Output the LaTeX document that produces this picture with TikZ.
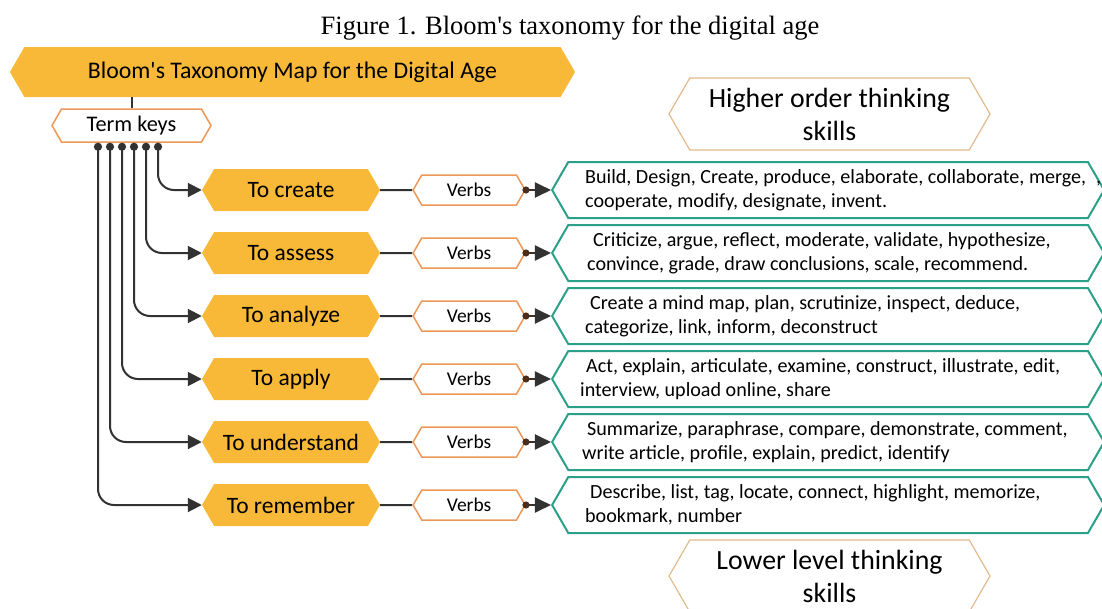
\documentclass[tikz,border=0pt]{standalone}
\usepackage{fontspec}
\setmainfont{Carlito}
\newfontfamily\capfont{Liberation Serif}
\usepackage{tikz}
\usetikzlibrary{positioning,arrows.meta,shapes.symbols}
\definecolor{bloomgold}{RGB}{249,185,56}
\definecolor{keyorange}{RGB}{236,152,88}
\definecolor{skillbeige}{RGB}{226,186,140}
\definecolor{verbteal}{RGB}{42,160,136}
\definecolor{linkgray}{RGB}{50,50,50}
\definecolor{dotbrown}{RGB}{75,45,25}
\tikzset{hexa/.style={signal, signal to=east and west, signal pointer angle=120, inner sep=0pt}}
\tikzset{banner/.style={hexa, fill=bloomgold, minimum width=565pt, minimum height=50pt, font=\fontsize{23.8}{28}\selectfont}}
\tikzset{keybox/.style={hexa, draw=keyorange, line width=1.5pt, fill=white, minimum width=159pt, minimum height=33pt, font=\fontsize{22.3}{26}\selectfont}}
\tikzset{level/.style={hexa, fill=bloomgold, minimum width=178pt, minimum height=42pt, font=\fontsize{23.5}{27}\selectfont}}
\tikzset{verbbox/.style={hexa, draw=keyorange, line width=1.5pt, fill=white, minimum width=112pt, minimum height=30pt, font=\fontsize{19.5}{22}\selectfont}}
\tikzset{examples/.style={hexa, draw=verbteal, line width=2pt, minimum width=552pt, minimum height=56pt}}
\tikzset{extext/.style={anchor=west, align=left, inner sep=0pt, font=\fontsize{20.1}{24.5}\selectfont}}
\tikzset{skillbox/.style={hexa, draw=skillbeige, line width=1.2pt, minimum width=321pt, minimum height=72pt, align=center, font=\fontsize{27.8}{33}\selectfont}}
\tikzset{link/.style={draw=linkgray, line width=2pt}}
\tikzset{branch/.style={link, rounded corners=16pt, {Circle[length=8pt]}-{Triangle[length=14pt,width=14pt]}}}
\tikzset{pointer/.style={link, {Circle[length=7pt,color=dotbrown]}-{Triangle[length=16pt,width=15pt]}}}

\begin{document}
\begin{tikzpicture}[x=1pt, y=-1pt]
            \useasboundingbox (0,0) rectangle (1102,608);

            \node[font=\capfont\fontsize{26.5}{30}\selectfont] (caption) at (570,28) {Figure 1. Bloom\textquotesingle s taxonomy for the digital age};
            \node[banner] (title) at (292.5,72) {Bloom\textquotesingle s Taxonomy Map for the Digital Age};
            \node[keybox] (termkeys) at (131.5,125.5) {Term keys};

            \node[skillbox] (higher) at (829.5,114) {Higher order thinking\\skills};
            \node[skillbox] (lower) at (829.5,576) {Lower level thinking\\skills};

            % levels, top to bottom
            \node[level] (create) at (291,190) {To create};
            \node[level, below=20.6pt of create] (assess) {To assess};
            \node[level, below=20.6pt of assess] (analyze) {To analyze};
            \node[level, below=20.6pt of analyze] (apply) {To apply};
            \node[level, below=20.6pt of apply] (understand) {To understand};
            \node[level, below=20.6pt of understand] (remember) {To remember};

            \node[verbbox, right=32pt of create] (v1) {Verbs};
            \node[verbbox, right=32pt of assess] (v2) {Verbs};
            \node[verbbox, right=32pt of analyze] (v3) {Verbs};
            \node[verbbox, right=32pt of apply] (v4) {Verbs};
            \node[verbbox, right=32pt of understand] (v5) {Verbs};
            \node[verbbox, right=32pt of remember] (v6) {Verbs};

            \node[examples, right=25pt of v1] (e1) {};
            \node[examples, right=25pt of v2] (e2) {};
            \node[examples, right=25pt of v3] (e3) {};
            \node[examples, right=25pt of v4] (e4) {};
            \node[examples, right=25pt of v5] (e5) {};
            \node[examples, right=25pt of v6] (e6) {};

            \node[extext] (t1) at ([xshift=34pt]e1.west) {Build, Design, Create, produce, elaborate, collaborate, merge,\hspace{10pt},\\cooperate, modify, designate, invent.};
            \node[extext] (t2) at ([xshift=36pt]e2.west) {\hspace*{6pt}Criticize, argue, reflect, moderate, validate, hypothesize,\\convince, grade, draw conclusions, scale, recommend.};
            \node[extext] (t3) at ([xshift=34pt]e3.west) {\hspace*{5pt}Create a mind map, plan, scrutinize, inspect, deduce,\\categorize, link, inform, deconstruct};
            \node[extext] (t4) at ([xshift=29pt]e4.west) {\hspace*{6pt}Act, explain, articulate, examine, construct, illustrate, edit,\\interview, upload online, share};
            \node[extext] (t5) at ([xshift=31pt]e5.west) {\hspace*{5pt}Summarize, paraphrase, compare, demonstrate, comment,\\write article, profile, explain, predict, identify};
            \node[extext] (t6) at ([xshift=34pt]e6.west) {\hspace*{5pt}Describe, list, tag, locate, connect, highlight, memorize,\\bookmark, number};

            % term keys fan out to the levels
            \coordinate (k1) at ([xshift=26.5pt]termkeys.south);
            \coordinate (k2) at ([xshift=14.5pt]termkeys.south);
            \coordinate (k3) at ([xshift=2.5pt]termkeys.south);
            \coordinate (k4) at ([xshift=-9.5pt]termkeys.south);
            \coordinate (k5) at ([xshift=-21.5pt]termkeys.south);
            \coordinate (k6) at ([xshift=-33.5pt]termkeys.south);

            \draw[link] (termkeys.north) -- (termkeys.north |- title.south);
            \draw[branch] (k1) |- (create.west);
            \draw[branch] (k2) |- (assess.west);
            \draw[branch] (k3) |- (analyze.west);
            \draw[branch] (k4) |- (apply.west);
            \draw[branch] (k5) |- (understand.west);
            \draw[branch] (k6) |- (remember.west);

            \draw[link] (create) -- (v1);
            \draw[link] (assess) -- (v2);
            \draw[link] (analyze) -- (v3);
            \draw[link] (apply) -- (v4);
            \draw[link] (understand) -- (v5);
            \draw[link] (remember) -- (v6);

            \draw[pointer] ([xshift=-3.5pt]v1.east) -- (e1.west);
            \draw[pointer] ([xshift=-3.5pt]v2.east) -- (e2.west);
            \draw[pointer] ([xshift=-3.5pt]v3.east) -- (e3.west);
            \draw[pointer] ([xshift=-3.5pt]v4.east) -- (e4.west);
            \draw[pointer] ([xshift=-3.5pt]v5.east) -- (e5.west);
            \draw[pointer] ([xshift=-3.5pt]v6.east) -- (e6.west);
        \end{tikzpicture}
\end{document}
